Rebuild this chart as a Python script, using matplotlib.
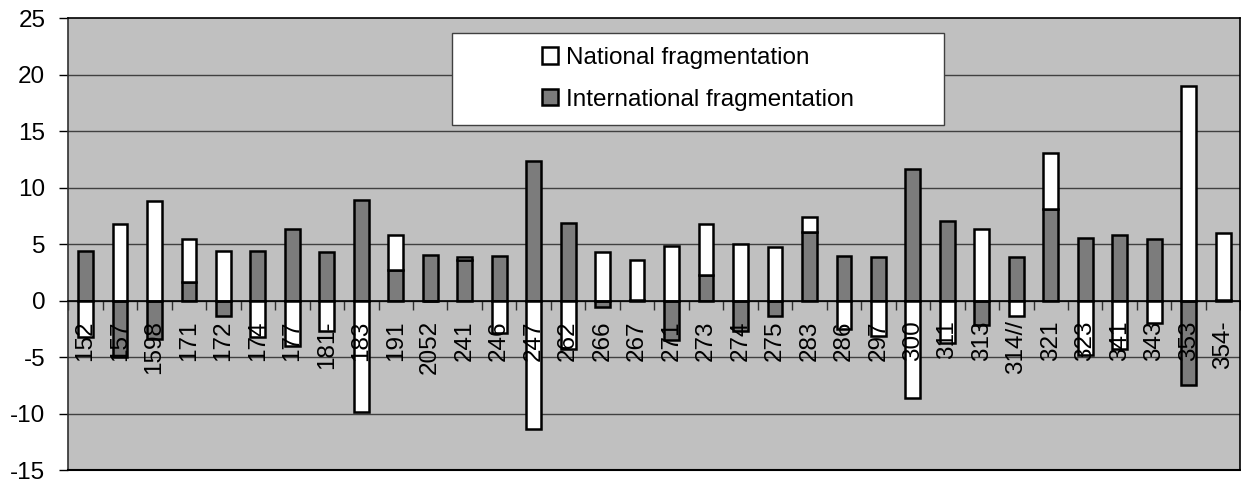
import matplotlib.pyplot as plt
import numpy as np
from matplotlib.patches import Rectangle

plt.rcParams['font.family'] = ['Liberation Sans', 'DejaVu Sans']
plt.rcParams['axes.unicode_minus'] = False

# Categories (sector codes) and fragmentation values
sectors = ['152', '157', '1598', '171', '172', '174', '177', '181-', '183', '191',
           '2052', '241', '246', '247', '262', '266', '267', '271', '273', '274',
           '275', '283', '286', '297', '300', '311', '313', '314//', '321', '323',
           '341', '343', '353', '354-']

national = [-3.2, 6.8, 8.8, 3.8, 4.4, -3.2, -4.0, -2.7, -9.8, 3.1,
            0.0, 0.3, -2.8, -11.3, -4.3, 4.3, 3.5, 4.9, 4.5, 5.0,
            4.8, 1.3, -2.5, -3.1, -8.6, -3.7, 6.4, -1.3, 5.0, -4.8,
            -4.3, -2.0, 19.0, 5.9]

international = [4.4, -5.0, -3.4, 1.7, -1.3, 4.4, 6.4, 4.3, 8.9, 2.7,
                 4.1, 3.6, 4.0, 12.4, 6.9, -0.5, 0.1, -3.5, 2.3, -2.7,
                 -1.3, 6.1, 4.0, 3.9, 11.7, 7.1, -2.1, 3.9, 8.1, 5.6,
                 5.8, 5.5, -7.4, 0.1]

y_ticks = [-15, -10, -5, 0, 5, 10, 15, 20, 25]

nat = np.array(national)
intl = np.array(international)
x = np.arange(len(sectors))

# national stacks on top of international only when both have the same sign
nat_bottom = np.where(np.sign(nat) == np.sign(intl), intl, 0.0)

fig = plt.figure(figsize=(12.41, 4.82), dpi=100)
ax = fig.add_axes([0.055, 0.024, 0.9445, 0.938])
ax.set_facecolor('#C0C0C0')

# gridlines behind the bars
for yv in y_ticks[1:-1]:
    ax.axhline(yv, color='#404040', lw=1, zorder=0.5)

bw = 0.43
b_int = ax.bar(x, intl, width=bw, color='#7c7c7c', edgecolor='black', lw=1.8,
               label='International fragmentation', zorder=1)
b_nat = ax.bar(x, nat, width=bw, bottom=nat_bottom, color='white', edgecolor='black',
               lw=1.8, label='National fragmentation', zorder=1)

ax.set_xlim(-0.5, len(sectors) - 0.5)
ax.set_ylim(-15, 25)
ax.set_yticks(y_ticks)
ax.tick_params(axis='y', length=6.5, width=1, pad=10, labelsize=17.5, direction='out')

# category axis sits on the zero line
ax.spines['bottom'].set_position(('data', 0))
ax.spines['bottom'].set_linewidth(1.2)
ax.axhline(-15, color='black', lw=1.5, clip_on=False, zorder=3)
for s in ['top', 'left', 'right']:
    ax.spines[s].set_color('black')
    ax.spines[s].set_linewidth(1.2)
ax.spines['left'].set_color('#303030')

ax.set_xticks(x)
ax.set_xticklabels(sectors, rotation=90, fontsize=17.5)
ax.set_xticks(np.arange(len(sectors) + 1) - 0.5, minor=True)
ax.tick_params(axis='x', which='major', length=0, pad=14)
ax.tick_params(axis='x', which='minor', length=6.5, width=1, color='#303030')

# legend box (wider than its content, as in the original)
box = Rectangle((0.364, 0.741), 0.397, 0.191, transform=fig.transFigure,
                facecolor='white', edgecolor='#404040', lw=1, zorder=4)
fig.add_artist(box)
fig.legend(handles=[b_nat, b_int], loc='center',
           bbox_to_anchor=(0.5625, 0.8365), bbox_transform=fig.transFigure,
           frameon=False, fontsize=17.5, handlelength=0.66, handleheight=0.66,
           handletextpad=0.3, labelspacing=0.8, borderpad=0)

fig.savefig('out.png', dpi=100)
